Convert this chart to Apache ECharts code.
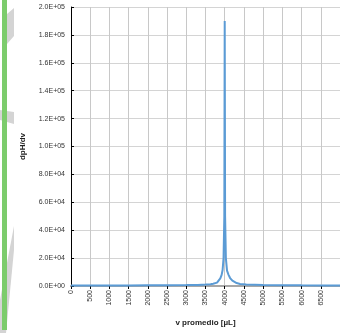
<!DOCTYPE html>
<html><head><meta charset="utf-8">
<script src="https://cdn.jsdelivr.net/npm/echarts@6/dist/echarts.min.js"></script>
<style>html,body{margin:0;padding:0;background:#fff}#c{width:340px;height:333px}</style>
</head><body><div id="c"></div>
<script>
var volumes = [0, 500, 1000, 1500, 2000, 2500, 3000, 3300, 3500, 3630, 3700, 3800, 3850, 3885, 3920, 3945, 3970, 3990, 4000, 4010, 4030, 4060, 4100, 4140, 4200, 4310, 4400, 4560, 5000, 5500, 6000, 6500, 7000];
var dpHdv = [300, 300, 350, 400, 450, 500, 650, 800, 1000, 1200, 1600, 2400, 3500, 5500, 8000, 11500, 20000, 50000, 190000, 50000, 20000, 11000, 8000, 5700, 3800, 2100, 1500, 1000, 700, 550, 450, 400, 350];
var xTitle = 'v promedio [µL]';
var yTitle = 'dpH/dv';

var data = volumes.map(function (v, i) { return [v, dpHdv[i]]; });
function sci(v) {
  if (v === 0) return '0.0E+00';
  var e = Math.floor(Math.log10(Math.abs(v)));
  var m = v / Math.pow(10, e);
  return m.toFixed(1) + 'E+' + (e < 10 ? '0' + e : e);
}
var chart = echarts.init(document.getElementById('c'), null, {renderer: 'canvas'});
chart.setOption({
  animation: false,
  backgroundColor: '#fff',
  textStyle: {fontFamily: 'Liberation Sans, Arial, sans-serif'},
  graphic: [
    {type: 'polygon', shape: {points: [[7, 14], [14, 8], [14, 36], [7, 44]]}, style: {fill: '#d4d4d4'}, z: -1},
    {type: 'polygon', shape: {points: [[0, 110], [14, 112], [14, 124], [0, 120]]}, style: {fill: '#d4d4d4'}, z: -1},
    {type: 'polygon', shape: {points: [[14, 226], [14, 250], [6, 333], [0, 333], [0, 300]]}, style: {fill: '#d4d4d4'}, z: -1},
    {type: 'rect', shape: {x: 2, y: 0, width: 5, height: 330}, style: {fill: '#7ccc6c'}, z: 0}
  ],
  grid: {left: 71, top: 7, right: -5, bottom: 47, containLabel: false},
  xAxis: [{
    type: 'value', min: 0, max: 7000, interval: 500,
    name: xTitle, nameLocation: 'middle', nameGap: 33,
    nameTextStyle: {fontSize: 8, fontWeight: 'bold', color: '#222'},
    axisLine: {show: true, onZero: false, lineStyle: {color: '#000', width: 1}},
    axisTick: {show: true, length: 3, lineStyle: {color: '#000'}},
    axisLabel: {rotate: 90, fontSize: 7, color: '#333', margin: 4,
      formatter: function (v) { return v >= 7000 ? '' : String(v); }},
    splitLine: {show: true, lineStyle: {color: '#c8c8c8', width: 1}}
  }, {
    type: 'value', min: 0, max: 7000, position: 'top',
    axisLine: {show: true, lineStyle: {color: '#a6a6a6', width: 2}},
    axisTick: {show: false}, axisLabel: {show: false}, splitLine: {show: false}
  }],
  yAxis: {
    type: 'value', min: 0, max: 200000, interval: 20000,
    name: yTitle, nameLocation: 'middle', nameGap: 44, nameRotate: 90,
    nameTextStyle: {fontSize: 8, fontWeight: 'bold', color: '#222'},
    axisLine: {show: true, lineStyle: {color: '#000', width: 1}},
    axisTick: {show: true, inside: true, length: 3, lineStyle: {color: '#000'}},
    axisLabel: {fontSize: 7, color: '#333', margin: 6, formatter: sci},
    splitLine: {show: true, lineStyle: {color: '#d4d4d4', width: 1}}
  },
  series: [{
    type: 'line', data: data, showSymbol: false, smooth: false,
    lineStyle: {color: '#5b9bd5', width: 2}, itemStyle: {color: '#5b9bd5'}
  }]
});
</script></body></html>
